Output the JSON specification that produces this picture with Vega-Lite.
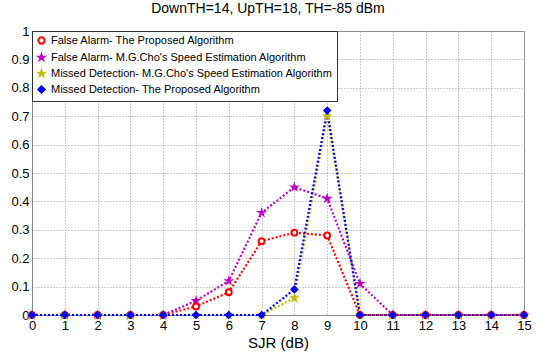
{
  "$schema": "https://vega.github.io/schema/vega-lite/v6.json",
  "width": 492,
  "height": 284,
  "autosize": {"type": "none"},
  "padding": {"left": 32, "top": 31, "right": 21, "bottom": 39},
  "background": "white",
  "config": {
    "font": "Liberation Sans",
    "view": {"stroke": "#888", "strokeWidth": 1},
    "axis": {
      "gridColor": "#999",
      "gridDash": [1, 2],
      "gridOpacity": 1,
      "domainColor": "#888",
      "ticks": false,
      "labelColor": "black",
      "labelFontSize": 13,
      "titleFontSize": 15,
      "titleFontWeight": "normal",
      "titleColor": "black"
    }
  },
  "title": {
    "text": "DownTH=14, UpTH=18, TH=-85 dBm",
    "fontSize": 14,
    "fontWeight": "normal",
    "color": "black",
    "offset": 9,
    "dx": -10
  },
  "data": {
    "values": [
      {"sjr": 0, "value": 0, "series": "False Alarm- The Proposed Algorithm"},
      {"sjr": 1, "value": 0, "series": "False Alarm- The Proposed Algorithm"},
      {"sjr": 2, "value": 0, "series": "False Alarm- The Proposed Algorithm"},
      {"sjr": 3, "value": 0, "series": "False Alarm- The Proposed Algorithm"},
      {"sjr": 4, "value": 0, "series": "False Alarm- The Proposed Algorithm"},
      {"sjr": 5, "value": 0.03, "series": "False Alarm- The Proposed Algorithm"},
      {"sjr": 6, "value": 0.08, "series": "False Alarm- The Proposed Algorithm"},
      {"sjr": 7, "value": 0.26, "series": "False Alarm- The Proposed Algorithm"},
      {"sjr": 8, "value": 0.29, "series": "False Alarm- The Proposed Algorithm"},
      {"sjr": 9, "value": 0.28, "series": "False Alarm- The Proposed Algorithm"},
      {"sjr": 10, "value": 0, "series": "False Alarm- The Proposed Algorithm"},
      {"sjr": 11, "value": 0, "series": "False Alarm- The Proposed Algorithm"},
      {"sjr": 12, "value": 0, "series": "False Alarm- The Proposed Algorithm"},
      {"sjr": 13, "value": 0, "series": "False Alarm- The Proposed Algorithm"},
      {"sjr": 14, "value": 0, "series": "False Alarm- The Proposed Algorithm"},
      {"sjr": 15, "value": 0, "series": "False Alarm- The Proposed Algorithm"},
      {"sjr": 0, "value": 0, "series": "False Alarm- M.G.Cho's Speed Estimation Algorithm"},
      {"sjr": 1, "value": 0, "series": "False Alarm- M.G.Cho's Speed Estimation Algorithm"},
      {"sjr": 2, "value": 0, "series": "False Alarm- M.G.Cho's Speed Estimation Algorithm"},
      {"sjr": 3, "value": 0, "series": "False Alarm- M.G.Cho's Speed Estimation Algorithm"},
      {"sjr": 4, "value": 0, "series": "False Alarm- M.G.Cho's Speed Estimation Algorithm"},
      {"sjr": 5, "value": 0.05, "series": "False Alarm- M.G.Cho's Speed Estimation Algorithm"},
      {"sjr": 6, "value": 0.12, "series": "False Alarm- M.G.Cho's Speed Estimation Algorithm"},
      {"sjr": 7, "value": 0.36, "series": "False Alarm- M.G.Cho's Speed Estimation Algorithm"},
      {"sjr": 8, "value": 0.45, "series": "False Alarm- M.G.Cho's Speed Estimation Algorithm"},
      {"sjr": 9, "value": 0.41, "series": "False Alarm- M.G.Cho's Speed Estimation Algorithm"},
      {"sjr": 10, "value": 0.11, "series": "False Alarm- M.G.Cho's Speed Estimation Algorithm"},
      {"sjr": 11, "value": 0, "series": "False Alarm- M.G.Cho's Speed Estimation Algorithm"},
      {"sjr": 12, "value": 0, "series": "False Alarm- M.G.Cho's Speed Estimation Algorithm"},
      {"sjr": 13, "value": 0, "series": "False Alarm- M.G.Cho's Speed Estimation Algorithm"},
      {"sjr": 14, "value": 0, "series": "False Alarm- M.G.Cho's Speed Estimation Algorithm"},
      {"sjr": 15, "value": 0, "series": "False Alarm- M.G.Cho's Speed Estimation Algorithm"},
      {"sjr": 0, "value": 0, "series": "Missed Detection- M.G.Cho's Speed Estimation Algorithm"},
      {"sjr": 1, "value": 0, "series": "Missed Detection- M.G.Cho's Speed Estimation Algorithm"},
      {"sjr": 2, "value": 0, "series": "Missed Detection- M.G.Cho's Speed Estimation Algorithm"},
      {"sjr": 3, "value": 0, "series": "Missed Detection- M.G.Cho's Speed Estimation Algorithm"},
      {"sjr": 4, "value": 0, "series": "Missed Detection- M.G.Cho's Speed Estimation Algorithm"},
      {"sjr": 5, "value": 0, "series": "Missed Detection- M.G.Cho's Speed Estimation Algorithm"},
      {"sjr": 6, "value": 0, "series": "Missed Detection- M.G.Cho's Speed Estimation Algorithm"},
      {"sjr": 7, "value": 0, "series": "Missed Detection- M.G.Cho's Speed Estimation Algorithm"},
      {"sjr": 8, "value": 0.06, "series": "Missed Detection- M.G.Cho's Speed Estimation Algorithm"},
      {"sjr": 9, "value": 0.70, "series": "Missed Detection- M.G.Cho's Speed Estimation Algorithm"},
      {"sjr": 10, "value": 0, "series": "Missed Detection- M.G.Cho's Speed Estimation Algorithm"},
      {"sjr": 11, "value": 0, "series": "Missed Detection- M.G.Cho's Speed Estimation Algorithm"},
      {"sjr": 12, "value": 0, "series": "Missed Detection- M.G.Cho's Speed Estimation Algorithm"},
      {"sjr": 13, "value": 0, "series": "Missed Detection- M.G.Cho's Speed Estimation Algorithm"},
      {"sjr": 14, "value": 0, "series": "Missed Detection- M.G.Cho's Speed Estimation Algorithm"},
      {"sjr": 15, "value": 0, "series": "Missed Detection- M.G.Cho's Speed Estimation Algorithm"},
      {"sjr": 0, "value": 0, "series": "Missed Detection- The Proposed Algorithm"},
      {"sjr": 1, "value": 0, "series": "Missed Detection- The Proposed Algorithm"},
      {"sjr": 2, "value": 0, "series": "Missed Detection- The Proposed Algorithm"},
      {"sjr": 3, "value": 0, "series": "Missed Detection- The Proposed Algorithm"},
      {"sjr": 4, "value": 0, "series": "Missed Detection- The Proposed Algorithm"},
      {"sjr": 5, "value": 0, "series": "Missed Detection- The Proposed Algorithm"},
      {"sjr": 6, "value": 0, "series": "Missed Detection- The Proposed Algorithm"},
      {"sjr": 7, "value": 0, "series": "Missed Detection- The Proposed Algorithm"},
      {"sjr": 8, "value": 0.09, "series": "Missed Detection- The Proposed Algorithm"},
      {"sjr": 9, "value": 0.72, "series": "Missed Detection- The Proposed Algorithm"},
      {"sjr": 10, "value": 0, "series": "Missed Detection- The Proposed Algorithm"},
      {"sjr": 11, "value": 0, "series": "Missed Detection- The Proposed Algorithm"},
      {"sjr": 12, "value": 0, "series": "Missed Detection- The Proposed Algorithm"},
      {"sjr": 13, "value": 0, "series": "Missed Detection- The Proposed Algorithm"},
      {"sjr": 14, "value": 0, "series": "Missed Detection- The Proposed Algorithm"},
      {"sjr": 15, "value": 0, "series": "Missed Detection- The Proposed Algorithm"}
    ]
  },
  "encoding": {
    "x": {
      "field": "sjr",
      "type": "quantitative",
      "scale": {"domain": [0, 15], "nice": false},
      "axis": {
        "title": "SJR (dB)",
        "values": [0,1,2,3,4,5,6,7,8,9,10,11,12,13,14,15],
        "labelPadding": 4,
        "titlePadding": 3,
        "labelFlush": false
      }
    },
    "y": {
      "field": "value",
      "type": "quantitative",
      "scale": {"domain": [0, 1], "nice": false},
      "axis": {
        "title": null,
        "values": [0,0.1,0.2,0.3,0.4,0.5,0.6,0.7,0.8,0.9,1],
        "format": ".1~f",
        "labelPadding": 3,
        "labelFlush": false
      }
    },
    "color": {
      "field": "series",
      "type": "nominal",
      "sort": null,
      "scale": {
        "domain": [
          "False Alarm- The Proposed Algorithm",
          "False Alarm- M.G.Cho's Speed Estimation Algorithm",
          "Missed Detection- M.G.Cho's Speed Estimation Algorithm",
          "Missed Detection- The Proposed Algorithm"
        ],
        "range": ["#ff0000", "#bf00bf", "#bfbf00", "#0000ff"]
      },
      "legend": {
        "title": null,
        "orient": "top-left",
        "offset": 0,
        "padding": 4,
        "rowPadding": 2,
        "labelFontSize": 11,
        "labelColor": "black",
        "strokeColor": "#333",
        "fillColor": "white",
        "symbolStrokeWidth": 2,
        "symbolSize": 40,
        "labelLimit": 400
      }
    }
  },
  "layer": [
    {
      "mark": {"type": "line", "strokeDash": [2, 2], "strokeWidth": 2.2}
    },
    {
      "mark": {"type": "point", "filled": false, "strokeWidth": 2, "opacity": 1},
      "encoding": {
        "order": {"field": "series", "type": "nominal", "sort": "ascending"},
        "shape": {
          "field": "series",
          "type": "nominal",
          "scale": {
            "domain": [
              "False Alarm- The Proposed Algorithm",
              "False Alarm- M.G.Cho's Speed Estimation Algorithm",
              "Missed Detection- M.G.Cho's Speed Estimation Algorithm",
              "Missed Detection- The Proposed Algorithm"
            ],
            "range": [
              "circle",
              "M0,-0.85L0.19,-0.26L0.81,-0.26L0.31,0.1L0.5,0.69L0,0.32L-0.5,0.69L-0.31,0.1L-0.81,-0.26L-0.19,-0.26Z",
              "M0,-0.85L0.19,-0.26L0.81,-0.26L0.31,0.1L0.5,0.69L0,0.32L-0.5,0.69L-0.31,0.1L-0.81,-0.26L-0.19,-0.26Z",
              "diamond"
            ]
          }
        },
        "fill": {
          "field": "series",
          "type": "nominal",
          "scale": {
            "domain": [
              "False Alarm- The Proposed Algorithm",
              "False Alarm- M.G.Cho's Speed Estimation Algorithm",
              "Missed Detection- M.G.Cho's Speed Estimation Algorithm",
              "Missed Detection- The Proposed Algorithm"
            ],
            "range": ["white", "#bf00bf", "#bfbf00", "#0000ff"]
          }
        },
        "size": {"value": 34}
      }
    }
  ]
}
